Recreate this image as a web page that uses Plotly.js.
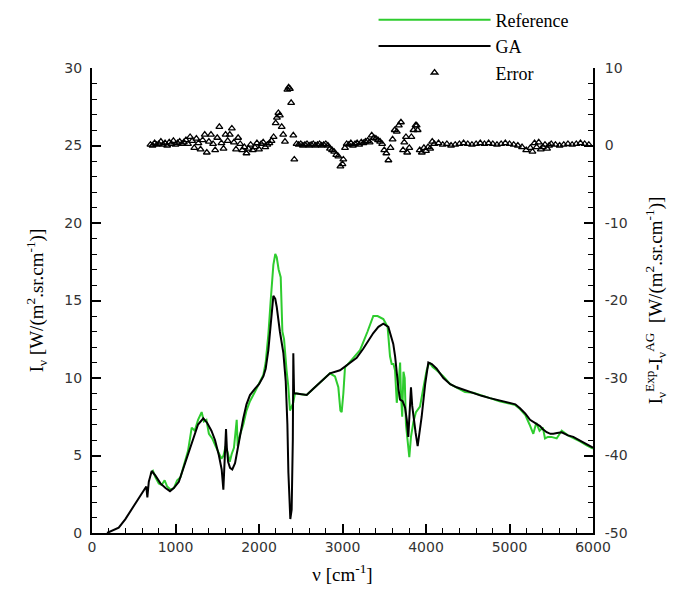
<!DOCTYPE html>
<html><head><meta charset="utf-8">
<script src="https://cdn.plot.ly/plotly-3.0.1.min.js"></script>
<style>html,body{margin:0;padding:0;background:#fff}#chart{width:677px;height:595px}</style>
</head><body><div id="chart"></div>
<script>
// GA (black) spectrum
const gaNu = [180,250,320,400,480,560,635,650,663,680,715,760,820,880,934,980,1040,1094,1150,1214,1270,1333,1380,1430,1473,1520,1553,1573,1590,1605,1615,1630,1653,1680,1713,1760,1812,1850,1892,1950,2000,2052,2080,2112,2140,2172,2195,2212,2250,2292,2320,2340,2352,2365,2375,2391,2405,2411,2415,2420,2451,2500,2571,2650,2750,2850,2970,3090,3170,3250,3369,3430,3489,3549,3590,3608,3630,3648,3670,3689,3720,3749,3770,3788,3805,3820,3835,3849,3875,3900,3920,3948,3990,4028,4070,4128,4208,4290,4367,4467,4567,4666,4766,4880,5006,5070,5126,5190,5246,5300,5365,5400,5445,5490,5525,5570,5625,5700,5764,5850,5924,6000];
const gaI = [0.0,0.15,0.35,0.9,1.6,2.3,2.9,3.0,2.3,3.3,4.0,3.7,3.2,2.9,2.7,2.9,3.3,4.2,5.1,6.2,7.0,7.4,7.1,6.6,6.0,5.0,4.1,2.8,4.5,6.7,5.5,4.6,4.2,4.1,4.5,6.0,7.4,8.3,8.9,9.3,9.6,10.1,10.6,11.8,13.4,15.3,15.1,14.6,13.0,11.6,9.8,7.0,3.9,1.5,0.9,1.5,6.0,11.6,11.0,9.0,9.0,8.95,8.9,9.3,9.8,10.3,10.5,11.0,11.3,11.9,12.9,13.3,13.5,13.3,12.6,12.2,11.4,10.3,9.3,8.6,8.5,8.1,7.3,6.2,7.6,9.4,8.2,7.5,6.5,5.6,6.3,7.5,9.6,11.0,10.9,10.6,10.0,9.6,9.4,9.2,9.0,8.85,8.7,8.55,8.4,8.3,8.05,7.7,7.3,7.1,6.9,6.7,6.5,6.4,6.4,6.45,6.5,6.3,6.2,5.95,5.7,5.5];

// Reference (green) spectrum
const refNu = [700,730,760,800,834,870,900,940,980,1020,1060,1100,1150,1194,1230,1270,1313,1340,1370,1400,1440,1480,1520,1550,1575,1600,1625,1650,1673,1700,1733,1745,1770,1812,1850,1892,1950,2000,2052,2080,2112,2140,2172,2195,2212,2235,2260,2280,2300,2330,2350,2371,2390,2410,2430,2451,2500,2571,2650,2750,2850,2910,2950,2975,2990,3010,3030,3050,3130,3210,3300,3369,3420,3489,3540,3560,3569,3589,3610,3629,3650,3670,3690,3700,3715,3730,3745,3760,3780,3800,3820,3850,3880,3928,3970,4008,4040,4080,4128,4208,4290,4367,4467,4567,4666,4766,4880,5006,5070,5126,5190,5240,5285,5320,5360,5400,5425,5460,5500,5565,5600,5625,5700,5764,5850,5924,6000];
const refI = [3.8,4.0,3.6,3.2,3.1,3.4,3.0,2.8,2.9,3.4,3.6,4.3,5.3,6.8,6.6,7.3,7.8,7.2,7.3,6.4,6.1,5.6,5.2,4.8,5.0,5.6,5.2,4.6,5.1,5.5,7.3,5.6,6.3,7.0,7.9,8.5,9.1,9.6,10.2,11.0,12.8,15.0,17.3,18.0,17.8,17.0,16.5,13.0,12.5,10.5,9.5,7.9,8.2,8.4,9.0,9.0,8.95,8.9,9.3,9.8,10.3,10.1,9.4,7.9,7.8,9.0,10.7,10.8,11.3,11.8,13.0,14.0,14.0,13.8,13.3,11.8,11.4,10.9,10.9,10.5,8.4,9.5,11.0,9.0,7.5,10.4,10.0,7.0,6.0,4.9,6.2,7.2,7.8,8.15,9.4,10.5,11.0,10.7,10.5,10.1,9.6,9.4,9.1,9.05,8.9,8.7,8.5,8.35,8.25,8.0,7.6,7.0,6.4,7.1,6.6,6.8,6.1,6.2,6.2,6.1,6.4,6.6,6.3,6.15,5.9,5.65,5.45];

// Error (Exp - GA), right axis
const errNu = [700,725,750,775,800,825,850,875,900,925,950,975,1000,1025,1050,1075,1100,1125,1150,1175,1200,1225,1250,1275,1300,1325,1350,1375,1400,1425,1450,1475,1500,1525,1550,1575,1600,1625,1650,1675,1700,1725,1750,1775,1800,1825,1850,1875,1900,1925,1950,1975,2000,2025,2050,2075,2100,2125,2150,2175,2200,2215,2232,2250,2272,2290,2311,2340,2355,2370,2385,2411,2423,2450,2475,2500,2525,2550,2575,2600,2625,2650,2675,2700,2725,2750,2775,2800,2825,2850,2875,2900,2925,2950,2975,3000,3010,3030,3050,3075,3100,3125,3150,3175,3200,3225,3250,3275,3300,3325,3350,3375,3400,3425,3450,3475,3500,3525,3550,3575,3600,3625,3650,3675,3700,3725,3740,3760,3775,3800,3825,3850,3875,3888,3900,3925,3950,3975,4000,4025,4050,4075,4100,4150,4200,4250,4300,4350,4400,4450,4500,4550,4600,4650,4700,4750,4800,4850,4900,4950,5000,5050,5100,5150,5200,5250,5275,5300,5325,5350,5375,5400,5425,5450,5475,5500,5550,5600,5650,5700,5750,5800,5850,5900,5950,6000];
const errVal = [0.1,0.0,0.3,0.1,0.2,0.5,0.1,0.3,0.0,0.4,0.2,0.6,0.1,0.3,0.5,0.2,0.4,0.7,0.2,1.1,0.6,-0.3,0.9,0.3,-0.5,0.7,1.4,-0.9,0.5,1.4,0.2,-0.6,1.0,2.4,0.3,-0.4,1.4,0.6,1.4,2.2,0.4,-0.5,1.0,0.2,-0.6,-0.2,-1.0,-0.4,0.1,-0.6,-0.2,0.3,-0.5,0.2,0.4,-0.2,0.1,0.3,0.6,1.1,2.9,3.6,4.2,3.9,2.4,1.4,0.5,7.2,7.5,7.3,5.5,1.3,-1.8,0.2,0.1,0.2,0.0,0.1,0.2,0.0,0.1,0.2,0.0,0.1,0.2,0.0,0.1,0.2,0.0,-0.4,-0.6,-0.8,-1.2,-1.4,-2.7,-2.4,-1.8,-0.3,0.2,0.1,0.3,0.0,0.2,0.3,0.1,0.4,0.3,0.5,0.6,0.4,1.3,1.0,0.9,0.7,0.5,0.2,-0.6,-1.0,-1.9,-0.3,0.8,2.0,1.8,2.6,3.0,-0.6,0.4,1.1,-0.9,-0.3,1.1,2.0,2.6,2.6,2.0,-0.6,-0.9,-0.3,-0.7,-0.2,-0.4,0.5,0.2,0.3,0.1,0.2,0.0,0.1,0.2,0.3,0.2,0.1,0.2,0.3,0.2,0.3,0.2,0.1,0.2,0.3,0.2,0.1,0.0,-0.2,-0.6,-0.3,-0.8,0.3,-0.2,0.4,-0.5,-0.2,0.1,-0.4,0.0,0.2,0.1,0.0,0.1,0.2,0.1,0.2,0.3,0.2,0.1];

// Tick labels
const xTickVals = [0,1000,2000,3000,4000,5000,6000];
const xTickText = ['0','1000','2000','3000','4000','5000','6000'];
const yTickVals = [0,5,10,15,20,25,30];
const yTickText = ['0','5','10','15','20','25','30'];
const y2TickVals = [-50,-40,-30,-20,-10,0,10];
const y2TickText = ['-50','-40','-30','-20','-10','0','10'];

const traces = [
  {x: refNu, y: refI, type:'scatter', mode:'lines', name:'Reference',
   line:{color:'#2ecc2e', width:2}},
  {x: gaNu, y: gaI, type:'scatter', mode:'lines', name:'GA',
   line:{color:'#000000', width:2}},
  {x: errNu, y: errVal, type:'scatter', mode:'markers', name:'Error', yaxis:'y2',
   marker:{symbol:'triangle-up-open', size:6, color:'#000', line:{width:1.3, color:'#000'}}}
];

const tickFont = {family:'DejaVu Sans, Verdana, sans-serif', size:14, color:'#333'};
const titleFont = {family:'Liberation Serif, Times New Roman, serif', size:19, color:'#000'};

const layout = {
  width:677, height:595,
  margin:{l:92, r:84, t:68, b:62, autoexpand:false},
  paper_bgcolor:'#fff', plot_bgcolor:'#fff',
  showlegend:true,
  legend:{x:0.562, y:1.143, xanchor:'left', yanchor:'top', bgcolor:'rgba(0,0,0,0)',
          font:{family:'Liberation Serif, Times New Roman, serif', size:18, color:'#000'},
          itemwidth:112, tracegroupgap:0},
  xaxis:{range:[0,6000], tickmode:'array', tickvals:xTickVals, ticktext:xTickText,
         showgrid:false, zeroline:false,
         showline:true, linecolor:'#000', linewidth:2, mirror:false,
         ticks:'inside', ticklen:9, tickwidth:2, tickcolor:'#000', tickfont:tickFont,
         minor:{dtick:200, tick0:0, ticks:'inside', ticklen:5, tickwidth:1, tickcolor:'#000', showgrid:false},
         title:{text:'ν [cm<sup>-1</sup>]', font:titleFont, standoff:14}},
  yaxis:{range:[0,30], tickmode:'array', tickvals:yTickVals, ticktext:yTickText,
         showgrid:false, zeroline:false, ticklabelstandoff:5,
         showline:true, linecolor:'#000', linewidth:2,
         ticks:'inside', ticklen:9, tickwidth:2, tickcolor:'#000', tickfont:tickFont,
         minor:{dtick:1, tick0:0, ticks:'inside', ticklen:5, tickwidth:1, tickcolor:'#000', showgrid:false},
         title:{text:'I<sub>ν</sub> [W/(m<sup>2</sup>.sr.cm<sup>-1</sup>)]', font:titleFont, standoff:16}},
  yaxis2:{range:[-50,10], tickmode:'array', tickvals:y2TickVals, ticktext:y2TickText,
          overlaying:'y', side:'right', showgrid:false, zeroline:false, ticklabelstandoff:7,
          showline:true, linecolor:'#000', linewidth:2,
          ticks:'inside', ticklen:9, tickwidth:2, tickcolor:'#000', tickfont:tickFont,
          minor:{dtick:2, tick0:0, ticks:'inside', ticklen:5, tickwidth:1, tickcolor:'#000', showgrid:false},
          title:{text:'I<sub>ν</sub><sup>Exp</sup>-I<sub>ν</sub><sup>AG</sup>  [W/(m<sup>2</sup>.sr.cm<sup>-1</sup>)]', font:titleFont, standoff:22}}
};

Plotly.newPlot('chart', traces, layout, {displayModeBar:false, staticPlot:true});
</script></body></html>
